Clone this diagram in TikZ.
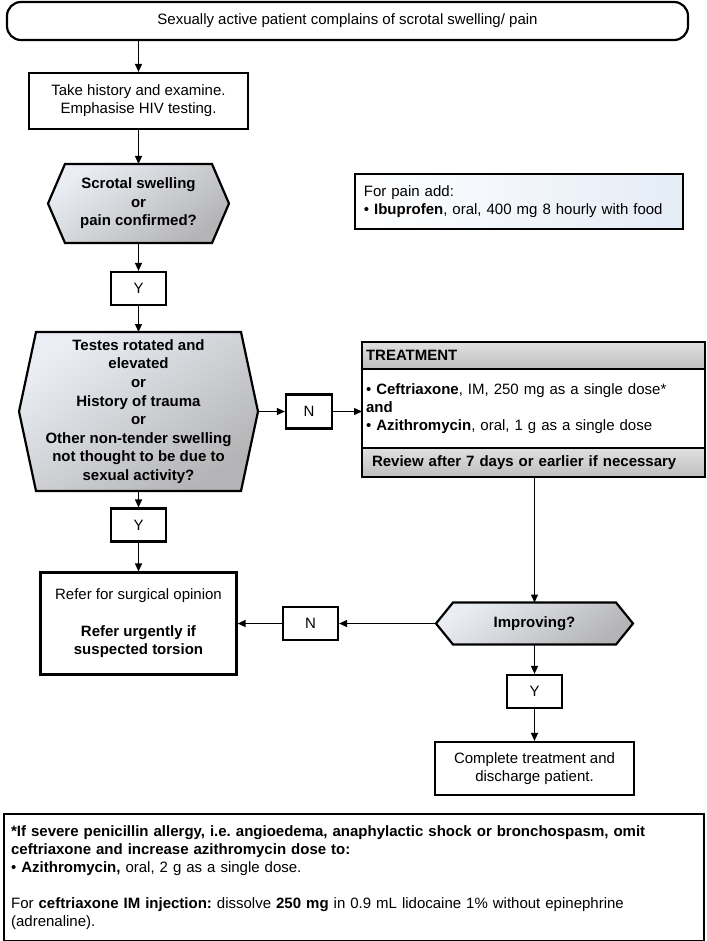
\documentclass[tikz,border=0pt]{standalone}
\usepackage{fontspec}
\setmainfont{Liberation Sans}
\usetikzlibrary{arrows.meta,backgrounds}
\definecolor{hexlight}{RGB}{234,238,244}
\definecolor{hexdark}{RGB}{180,180,182}
\definecolor{bandlight}{RGB}{224,224,224}
\definecolor{banddark}{RGB}{190,190,190}
\definecolor{painblue}{RGB}{228,236,246}
\newcommand{\hexfill}[1]{%
  \path[hexback] (#1.west) -- ([xshift=17pt]#1.north west) -- ([xshift=-17pt]#1.north east)
    -- (#1.east) -- ([xshift=-17pt]#1.south east) -- ([xshift=17pt]#1.south west) -- cycle;}
\frenchspacing

\begin{document}
\begin{tikzpicture}[x=1pt,y=-1pt,
  every node/.style={font=\fontsize{15}{18}\selectfont},
  box/.style={draw, line width=2.2pt, align=center},
  yn/.style={box, minimum width=55pt, minimum height=33pt},
  hexnode/.style={align=center, outer sep=0pt, font=\fontsize{15}{18.6}\selectfont\bfseries},
  hexback/.style={draw, line width=2.2pt, top color=hexlight, bottom color=hexdark, shading angle=35},
  band/.style={draw, line width=2.2pt, top color=bandlight, bottom color=banddark, anchor=north west,
    outer sep=0pt, minimum width=343pt, text width=335pt, inner xsep=4pt, align=left,
    font=\fontsize{15}{18}\selectfont\bfseries},
  link/.style={line width=1.3pt, -{Triangle[length=8pt,width=7pt]}}]
\useasboundingbox (0,0) rectangle (706,941);

\node[box, rounded corners=14pt, minimum width=681pt, minimum height=38pt] (start) at (347.5,21)
  {Sexually active patient complains of scrotal swelling/ pain};
\node[box, minimum width=219pt, minimum height=56pt] (take) at (138.5,101)
  {Take history and examine.\\Emphasise HIV testing.};
\node[hexnode, minimum width=181pt, minimum height=79pt] (hexa) at (138.5,203.5)
  {Scrotal swelling\\or\\pain confirmed?};
\node[yn] (ya) at (138.5,288.5) {Y};
\node[hexnode, minimum width=239pt, minimum height=159pt] (hexb) at (138.5,411.5)
  {Testes rotated and\\elevated\\or\\History of trauma\\or\\Other non-tender swelling\\not thought to be due to\\sexual activity?};
\node[yn] (yb) at (138.5,525) {Y};
\node[box, minimum width=196pt, minimum height=102pt] (refer) at (138.5,623.5)
  {Refer for surgical opinion\\[19pt]\textbf{Refer urgently if}\\\textbf{suspected torsion}};
\node[yn, minimum width=46pt, minimum height=34pt] (na) at (309,411.5) {N};
\node[yn] (nb) at (310.5,623.5) {N};

% treatment
\node[band, minimum height=27pt] (thead) at (362,342) {TREATMENT};
\node[box, anchor=north west, outer sep=0pt, minimum width=343pt, text width=335pt, inner xsep=4pt,
  minimum height=79pt, align=left] (tbody) at (thead.south west)
  {\textbullet{} \textbf{Ceftriaxone}, IM, 250 mg as a single dose*\\\textbf{and}\\\textbullet{} \textbf{Azithromycin}, oral, 1 g as a single dose};
\node[band, minimum height=29pt] (tfoot) at (tbody.south west)
  {\hspace*{6pt}Review after 7 days or earlier if necessary};

\node[box, line width=1.8pt, anchor=north west, minimum width=328pt, minimum height=55pt, text width=310pt,
  inner xsep=9pt, align=left, left color=white, right color=painblue] (pain) at (354,173)
  {For pain add:\\\textbullet{} \textbf{Ibuprofen}, oral, 400 mg 8 hourly with food};

\node[hexnode, minimum width=197pt, minimum height=42pt] (impr) at (534.5,623.5) {Improving?};
\node[yn] (yc) at (534.5,691.5) {Y};
\node[box, minimum width=199pt, minimum height=53pt] (done) at (534.5,768.5)
  {Complete treatment and\\discharge patient.};

\node[box, anchor=north west, minimum width=700pt, minimum height=127pt, text width=686pt,
  inner xsep=7pt, align=left] (note) at (3,813)
  {\textbf{*If severe penicillin allergy, i.e. angioedema, anaphylactic shock or bronchospasm, omit}\\
   \textbf{ceftriaxone and increase azithromycin dose to:}\\
   \textbullet{} \textbf{Azithromycin,} oral, 2 g as a single dose.\\[18pt]
   For \textbf{ceftriaxone IM injection:} dissolve \textbf{250 mg} in 0.9 mL lidocaine 1\% without epinephrine\\
   (adrenaline).};

\begin{scope}[on background layer]
\hexfill{hexa}
\hexfill{hexb}
\hexfill{impr}
\end{scope}

\draw[link] (take.north |- start.south) -- (take.north);
\foreach \a/\b in {take/hexa, hexa/ya, ya/hexb, hexb/yb, yb/refer, impr/yc, yc/done}
  \draw[link] (\a.south) -- (\b.north);
\draw[link] (hexb.east) -- (na.west);
\draw[link] (na.east) -- (na.east -| tbody.west);
\draw[link] (impr.north |- tfoot.south) -- (impr.north);
\draw[link] (impr.west) -- (nb.east);
\draw[link] (nb.west) -- (refer.east);
\end{tikzpicture}
\end{document}
